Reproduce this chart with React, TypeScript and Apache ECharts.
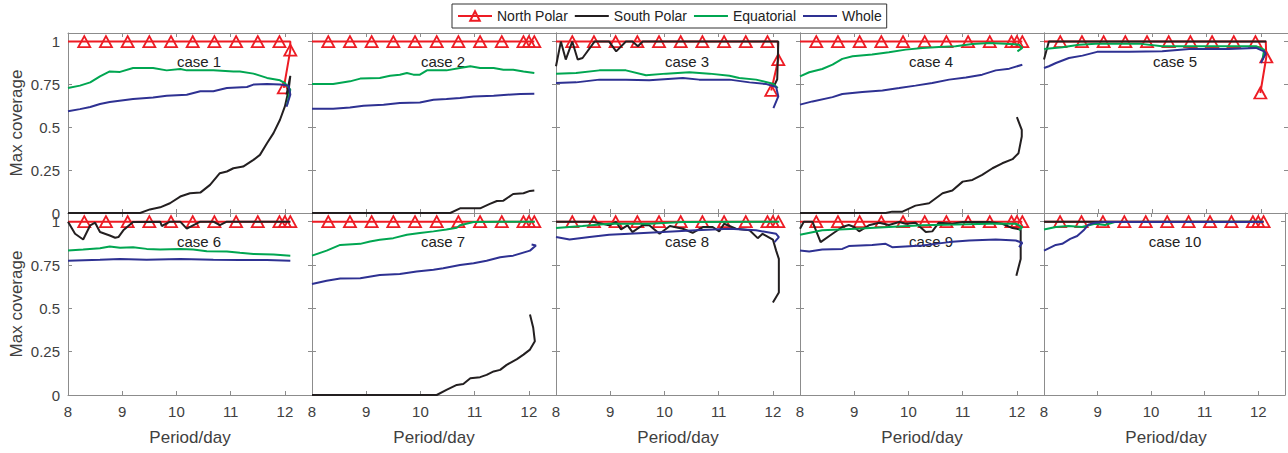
import React, { useEffect, useRef } from "react";
import * as echarts from "echarts";

// ---------- DATA ----------
const SERIES_NAMES = ["North Polar", "South Polar", "Equatorial", "Whole"];
const CASE_LABELS = ["case 1", "case 2", "case 3", "case 4", "case 5", "case 6", "case 7", "case 8", "case 9", "case 10"];
const X_TICKS = [8, 9, 10, 11, 12];
const Y_TICKS = [0, 0.25, 0.5, 0.75, 1];

// North Polar
const NP_FLAT = [[8.0, 1], [8.3, 1], [8.7, 1], [9.1, 1], [9.5, 1], [9.9, 1], [10.3, 1], [10.7, 1], [11.1, 1], [11.5, 1], [11.9, 1], [12.0, 1], [12.1, 1]];
const NP_1 = [[8.0, 1], [8.3, 1], [8.7, 1], [9.1, 1], [9.5, 1], [9.9, 1], [10.3, 1], [10.7, 1], [11.1, 1], [11.5, 1], [11.9, 1], [12.1, 1], [12.1, 0.95], [11.98, 0.73]];
const NP_3 = [[8.0, 1], [8.3, 1], [8.7, 1], [9.1, 1], [9.5, 1], [9.9, 1], [10.3, 1], [10.7, 1], [11.1, 1], [11.5, 1], [11.9, 1], [12.09, 1], [12.1, 0.895], [11.97, 0.715]];
const NP_5 = [[8.0, 1], [8.3, 1], [8.7, 1], [9.1, 1], [9.5, 1], [9.9, 1], [10.3, 1], [10.7, 1], [11.1, 1], [11.5, 1], [11.9, 1], [12.09, 1], [12.1, 0.91], [11.99, 0.70]];

// South Polar
const SP_1 = [[8.0, 0], [9.33, 0], [9.51, 0.021], [9.7, 0.033], [9.88, 0.057], [10.07, 0.096], [10.25, 0.115], [10.44, 0.119], [10.62, 0.164], [10.8, 0.232], [10.93, 0.242], [11.05, 0.261], [11.23, 0.271], [11.42, 0.31], [11.54, 0.339], [11.67, 0.407], [11.79, 0.466], [11.91, 0.544], [12.0, 0.622], [12.07, 0.719], [12.1, 0.8], [12.03, 0.69]];
const SP_2 = [[8.0, 0], [10.55, 0], [10.73, 0.027], [11.1, 0.027], [11.28, 0.053], [11.41, 0.07], [11.53, 0.072], [11.71, 0.111], [11.9, 0.115], [12.02, 0.129], [12.1, 0.131]];
const SP_3 = [[8.0, 0.856], [8.09, 1], [8.18, 0.895], [8.3, 1], [8.4, 0.895], [8.49, 0.904], [8.71, 1], [8.98, 1], [9.11, 0.943], [9.29, 1], [9.41, 1], [9.51, 0.973], [9.6, 1], [12.1, 1], [12.08, 0.78], [12.02, 0.74]];
const SP_4 = [[8.0, 0], [9.58, 0], [9.7, 0.008], [9.89, 0.008], [10.13, 0.043], [10.38, 0.057], [10.63, 0.115], [10.81, 0.131], [11.0, 0.183], [11.18, 0.193], [11.36, 0.222], [11.55, 0.261], [11.73, 0.29], [11.92, 0.314], [12.03, 0.349], [12.09, 0.446], [12.09, 0.485], [12.0, 0.559]];
const SP_5 = [[8.0, 0.895], [8.09, 1], [12.1, 1]];
const SP_6 = [[8.0, 1], [8.13, 0.93], [8.28, 0.897], [8.41, 0.979], [8.5, 0.994], [8.59, 0.94], [8.77, 0.92], [8.87, 0.907], [8.93, 0.911], [9.02, 0.95], [9.2, 0.998], [9.7, 1], [9.73, 0.975], [9.88, 1], [10.07, 1], [10.19, 0.96], [10.44, 1], [10.68, 1], [10.8, 0.98], [10.93, 1], [12.1, 1]];
const SP_7 = [[8.0, 0], [10.3, 0], [10.48, 0.029], [10.67, 0.058], [10.79, 0.064], [10.92, 0.097], [11.1, 0.103], [11.22, 0.116], [11.35, 0.136], [11.47, 0.145], [11.59, 0.174], [11.78, 0.207], [11.9, 0.233], [12.02, 0.262], [12.11, 0.31], [12.08, 0.388], [12.02, 0.465]];
const SP_8 = [[8.0, 1], [8.68, 1], [8.98, 0.979], [9.11, 0.998], [9.2, 0.955], [9.32, 0.979], [9.41, 0.94], [9.6, 0.981], [9.72, 0.979], [9.91, 0.93], [10.1, 0.975], [10.34, 0.959], [10.52, 0.936], [10.71, 0.969], [10.89, 0.969], [11.01, 0.944], [11.1, 0.988], [11.32, 0.959], [11.57, 0.95], [11.72, 0.905], [11.81, 0.93], [12.0, 0.897], [12.06, 0.833], [12.11, 0.785], [12.11, 0.591], [12.0, 0.533]];
const SP_9 = [[8.0, 0.959], [8.07, 1], [8.23, 1], [8.38, 0.882], [8.6, 0.93], [8.78, 0.969], [8.9, 0.981], [9.0, 0.969], [9.09, 0.944], [9.27, 0.979], [9.46, 0.994], [9.64, 0.981], [9.83, 0.998], [9.95, 0.988], [10.13, 0.994], [10.32, 0.94], [10.44, 0.944], [10.56, 0.994], [10.81, 0.988], [11.0, 0.998], [11.49, 0.998], [11.73, 0.988], [11.92, 0.963], [12.07, 0.955], [12.07, 0.785], [11.99, 0.688]];
const SP_10 = [[8.0, 1], [12.1, 1]];

// Equatorial
const EQ_1 = [[8.0, 0.729], [8.22, 0.743], [8.41, 0.762], [8.59, 0.797], [8.77, 0.826], [8.96, 0.823], [9.2, 0.846], [9.57, 0.846], [9.82, 0.832], [10.07, 0.84], [10.19, 0.832], [10.68, 0.832], [11.05, 0.826], [11.17, 0.826], [11.42, 0.813], [11.67, 0.788], [11.91, 0.774], [12.0, 0.758], [12.1, 0.72], [12.04, 0.63]];
const EQ_2 = [[8.0, 0.752], [8.39, 0.752], [8.7, 0.768], [8.89, 0.784], [9.25, 0.788], [9.44, 0.801], [9.62, 0.807], [9.75, 0.817], [9.87, 0.807], [9.99, 0.807], [10.12, 0.832], [10.48, 0.832], [10.73, 0.846], [10.92, 0.856], [11.1, 0.846], [11.35, 0.846], [11.53, 0.836], [11.71, 0.836], [11.9, 0.826], [12.1, 0.817]];
const EQ_3 = [[8.0, 0.813], [8.37, 0.817], [8.8, 0.832], [9.29, 0.832], [9.66, 0.803], [10.03, 0.813], [10.46, 0.821], [10.83, 0.813], [11.2, 0.801], [11.38, 0.788], [11.69, 0.778], [12.0, 0.754], [12.09, 0.729]];
const EQ_4 = [[8.0, 0.797], [8.17, 0.821], [8.41, 0.84], [8.6, 0.866], [8.78, 0.899], [8.97, 0.914], [9.33, 0.924], [9.64, 0.938], [9.95, 0.953], [10.26, 0.963], [10.56, 0.969], [10.87, 0.973], [11.18, 0.986], [11.49, 0.992], [11.79, 0.988], [12.04, 0.982], [12.1, 0.963], [12.01, 0.943]];
const EQ_5 = [[8.0, 0.957], [8.34, 0.967], [8.65, 0.982], [8.95, 0.988], [9.75, 0.988], [10.18, 0.973], [10.68, 0.973], [11.41, 0.973], [11.91, 0.973], [12.06, 0.953], [12.03, 0.895]];
const EQ_6 = [[8.0, 0.833], [8.28, 0.839], [8.59, 0.847], [8.77, 0.857], [8.96, 0.849], [9.2, 0.853], [9.45, 0.843], [9.7, 0.839], [10.07, 0.843], [10.31, 0.839], [10.56, 0.829], [10.93, 0.828], [11.17, 0.82], [11.42, 0.814], [11.79, 0.81], [12.1, 0.804]];
const EQ_7 = [[8.0, 0.804], [8.27, 0.833], [8.52, 0.866], [8.89, 0.872], [9.07, 0.886], [9.25, 0.896], [9.5, 0.905], [9.75, 0.924], [9.99, 0.934], [10.24, 0.944], [10.48, 0.955], [10.67, 0.965], [10.73, 0.979], [10.98, 0.998], [11.47, 1.0], [12.11, 1.0]];
const EQ_8 = [[8.0, 0.963], [8.49, 0.975], [8.98, 0.988], [9.72, 0.988], [10.34, 0.998], [12.12, 1.0]];
const EQ_9 = [[8.0, 0.924], [8.41, 0.95], [9.03, 0.959], [9.64, 0.969], [10.26, 0.979], [10.87, 0.983], [11.49, 0.988], [11.98, 0.988], [12.1, 0.969], [12.04, 0.95]];
const EQ_10 = [[8.0, 0.955], [8.22, 0.969], [8.46, 0.975], [8.71, 0.969], [8.95, 0.988], [9.14, 0.981], [9.32, 0.998], [12.09, 1.0]];

// Whole
const WH_1 = [[8.0, 0.593], [8.22, 0.606], [8.41, 0.618], [8.59, 0.636], [8.77, 0.647], [9.2, 0.665], [9.57, 0.674], [9.82, 0.684], [10.19, 0.69], [10.44, 0.71], [10.68, 0.71], [10.93, 0.729], [11.3, 0.735], [11.42, 0.749], [11.67, 0.752], [11.91, 0.749], [12.07, 0.743], [12.1, 0.69], [12.03, 0.62]];
const WH_2 = [[8.0, 0.608], [8.39, 0.608], [8.7, 0.616], [8.95, 0.626], [9.32, 0.632], [9.62, 0.641], [9.99, 0.645], [10.24, 0.661], [10.48, 0.665], [10.73, 0.671], [10.98, 0.68], [11.35, 0.684], [11.6, 0.69], [11.84, 0.694], [12.1, 0.696]];
const WH_3 = [[8.0, 0.758], [8.37, 0.762], [8.8, 0.778], [9.29, 0.778], [9.72, 0.774], [10.34, 0.788], [10.64, 0.778], [11.2, 0.778], [11.57, 0.762], [11.88, 0.752], [12.06, 0.735], [12.1, 0.68], [12.01, 0.612]];
const WH_4 = [[8.0, 0.632], [8.23, 0.651], [8.6, 0.676], [8.78, 0.694], [9.15, 0.706], [9.52, 0.715], [9.83, 0.729], [10.13, 0.743], [10.44, 0.758], [10.75, 0.778], [11.06, 0.791], [11.36, 0.807], [11.61, 0.832], [11.86, 0.842], [12.1, 0.865]];
const WH_5 = [[8.0, 0.846], [8.09, 0.856], [8.22, 0.875], [8.46, 0.904], [8.71, 0.918], [8.98, 0.94], [9.57, 0.94], [10.18, 0.943], [10.68, 0.957], [11.41, 0.957], [11.91, 0.963], [12.06, 0.943], [12.09, 0.93], [12.0, 0.875]];
const WH_6 = [[8.0, 0.775], [8.59, 0.781], [8.96, 0.785], [9.45, 0.781], [10.07, 0.785], [10.68, 0.781], [11.17, 0.779], [11.67, 0.779], [12.1, 0.775]];
const WH_7 = [[8.0, 0.64], [8.27, 0.659], [8.52, 0.672], [8.89, 0.674], [9.25, 0.692], [9.62, 0.698], [9.93, 0.713], [10.24, 0.723], [10.42, 0.731], [10.73, 0.75], [10.98, 0.76], [11.22, 0.775], [11.47, 0.795], [11.71, 0.804], [12.02, 0.833], [12.13, 0.862], [12.05, 0.868]];
const WH_8 = [[8.0, 0.911], [8.25, 0.897], [8.62, 0.911], [8.98, 0.924], [9.35, 0.93], [9.97, 0.94], [10.58, 0.95], [11.2, 0.959], [11.69, 0.95], [12.06, 0.93], [12.11, 0.911], [12.03, 0.882]];
const WH_9 = [[8.0, 0.833], [8.17, 0.828], [8.41, 0.839], [8.78, 0.843], [8.9, 0.859], [9.33, 0.866], [9.58, 0.872], [9.7, 0.853], [10.26, 0.862], [10.75, 0.882], [11.12, 0.891], [11.61, 0.897], [11.98, 0.891], [12.1, 0.878], [12.04, 0.853]];
const WH_10 = [[8.0, 0.833], [8.22, 0.866], [8.34, 0.872], [8.49, 0.901], [8.62, 0.917], [8.74, 0.95], [8.83, 0.983], [8.95, 0.994], [9.14, 0.998], [12.09, 0.998]];

const NORTH = [NP_1, NP_FLAT, NP_3, NP_FLAT, NP_5, NP_FLAT, NP_FLAT, NP_FLAT, NP_FLAT, NP_FLAT];
const SOUTH = [SP_1, SP_2, SP_3, SP_4, SP_5, SP_6, SP_7, SP_8, SP_9, SP_10];
const EQUAT = [EQ_1, EQ_2, EQ_3, EQ_4, EQ_5, EQ_6, EQ_7, EQ_8, EQ_9, EQ_10];
const WHOLE = [WH_1, WH_2, WH_3, WH_4, WH_5, WH_6, WH_7, WH_8, WH_9, WH_10];

// ---------- STYLE / LAYOUT ----------
const FONT = '"Liberation Sans", Arial, Helvetica, sans-serif';
const COLORS = ["#ed1c24", "#231f20", "#00a651", "#2e3192"];
const AXIS_COLOR = "#8c8c8c";
const TEXT_COLOR = "#404040";
const GRID_LEFT = 68;
const CELL_W = 244;
const ROW_TOP = [33, 213];
const ROW_H = [180, 182];
const X_MIN = 8, X_MAX = 12.5, Y_MIN = 0, Y_MAX = 1.05;

function buildOption() {
  const grids: any[] = [];
  const xAxes: any[] = [];
  const yAxes: any[] = [];
  const series: any[] = [];
  const graphics: any[] = [];

  for (let i = 0; i < 10; i++) {
    const r = Math.floor(i / 5);
    const c = i % 5;
    const left = GRID_LEFT + c * CELL_W;
    grids.push({ left, top: ROW_TOP[r], width: CELL_W, height: ROW_H[r], show: false, containLabel: false });

    const xBase = {
      gridIndex: i, type: "value", min: X_MIN, max: X_MAX, interval: X_TICKS[1] - X_TICKS[0],
      axisLine: { show: true, onZero: false, lineStyle: { color: AXIS_COLOR, width: 1 } },
      axisTick: { show: true, inside: true, length: 4, lineStyle: { color: AXIS_COLOR } },
      splitLine: { show: false },
    };
    xAxes.push({
      ...xBase, position: "bottom",
      axisLabel: {
        show: r === 1, margin: 9, fontSize: 15, color: TEXT_COLOR, fontFamily: FONT,
        formatter: (v: number) => (X_TICKS.includes(v) ? String(v) : ""),
      },
    });
    xAxes.push({ ...xBase, position: "top", axisLabel: { show: false } });

    const yBase = {
      gridIndex: i, type: "value", min: Y_MIN, max: Y_MAX, interval: Y_TICKS[1] - Y_TICKS[0],
      axisLine: { show: true, onZero: false, lineStyle: { color: AXIS_COLOR, width: 1 } },
      axisTick: { show: true, inside: true, length: 4, lineStyle: { color: AXIS_COLOR } },
      splitLine: { show: false },
    };
    yAxes.push({
      ...yBase, position: "left",
      axisLabel: {
        show: c === 0, margin: 8, fontSize: 15, color: TEXT_COLOR, fontFamily: FONT,
        formatter: (v: number) => (Y_TICKS.some((t) => Math.abs(t - v) < 1e-6) ? String(v) : ""),
      },
    });
    yAxes.push({ ...yBase, position: "right", axisLabel: { show: false } });

    const xi = 2 * i;
    const np = NORTH[i];
    series.push({
      type: "line", name: SERIES_NAMES[0], xAxisIndex: xi, yAxisIndex: xi,
      symbol: "triangle", symbolSize: [12, 11], showSymbol: true,
      itemStyle: { color: "rgba(255,255,255,0)", borderColor: COLORS[0], borderWidth: 1.8 },
      lineStyle: { color: COLORS[0], width: 2 },
      data: np.map((p, k) => {
        const marked = (k >= 1 && k <= 10) || k >= np.length - 2;
        return marked ? { value: p } : { value: p, symbol: "none" };
      }),
      z: 2,
    });
    const others = [SOUTH[i], EQUAT[i], WHOLE[i]];
    others.forEach((d, k) => {
      series.push({
        type: "line", name: SERIES_NAMES[k + 1], xAxisIndex: xi, yAxisIndex: xi,
        symbol: "none", showSymbol: false,
        lineStyle: { color: COLORS[k + 1], width: 2 },
        itemStyle: { color: COLORS[k + 1] },
        data: d,
        z: 3 + k,
      });
    });

    graphics.push({
      type: "text", x: left + 131, y: ROW_TOP[r] + 28.5, z: 1,
      style: { text: CASE_LABELS[i], fill: "#222", fontSize: 15, fontFamily: FONT, align: "center", verticalAlign: "middle" },
    });
    if (r === 1) {
      graphics.push({
        type: "text", x: left + CELL_W / 2, y: 437,
        style: { text: "Period/day", fill: TEXT_COLOR, fontSize: 17, fontFamily: FONT, align: "center", verticalAlign: "middle" },
      });
    }
  }
  for (let r = 0; r < 2; r++) {
    graphics.push({
      type: "text", x: 16, y: ROW_TOP[r] + ROW_H[r] / 2, rotation: Math.PI / 2,
      style: { text: "Max coverage", fill: TEXT_COLOR, fontSize: 17, fontFamily: FONT, align: "center", verticalAlign: "middle" },
    });
  }

  const hiddenSymbol = { color: "rgba(0,0,0,0)", borderWidth: 0, opacity: 0 };

  return {
    animation: false,
    backgroundColor: "#ffffff",
    grid: grids,
    xAxis: xAxes,
    yAxis: yAxes,
    series,
    graphic: graphics,
    legend: {
      data: [
        { name: SERIES_NAMES[0] },
        { name: SERIES_NAMES[1], itemStyle: hiddenSymbol },
        { name: SERIES_NAMES[2], itemStyle: hiddenSymbol },
        { name: SERIES_NAMES[3], itemStyle: hiddenSymbol },
      ],
      left: 452, top: 4, itemWidth: 34, itemHeight: 12, itemGap: 6,
      padding: [5, 5, 5, 5], borderColor: "#333", borderWidth: 1, backgroundColor: "#fff",
      textStyle: { fontSize: 14, color: "#222", fontFamily: FONT },
    },
  };
}

export default function App() {
  const ref = useRef<HTMLDivElement>(null);
  useEffect(() => {
    if (!ref.current) return;
    const chart = echarts.init(ref.current, undefined, { renderer: "svg" });
    chart.setOption(buildOption() as any);
    return () => chart.dispose();
  }, []);
  return <div ref={ref} style={{ position: "absolute", left: 0, top: 0, width: 1288, height: 453 }} />;
}
